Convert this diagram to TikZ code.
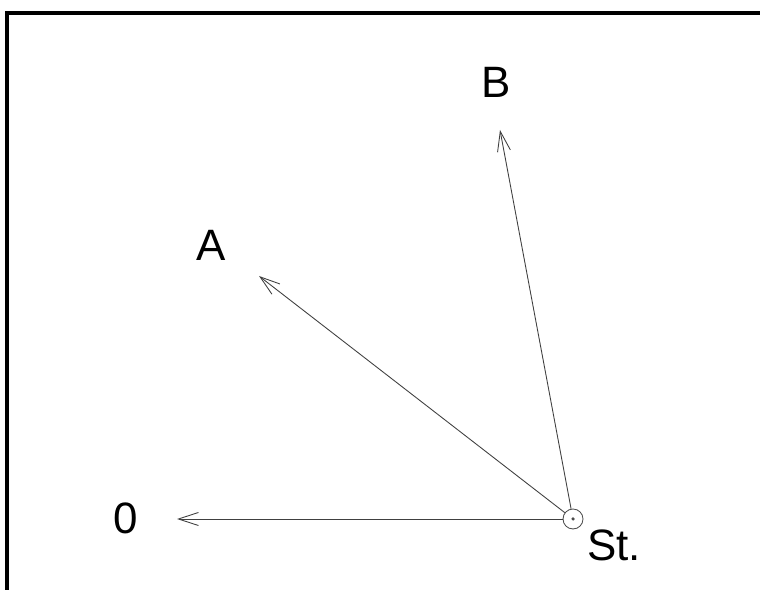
\documentclass[tikz,border=0pt]{standalone}
\usepackage{fontspec}
\setmainfont{Liberation Sans}
\usepackage{tikz}
\usetikzlibrary{arrows.meta,positioning}

\begin{document}
\begin{tikzpicture}[
    station/.style={
        draw=black!70,
        circle,
        line width=0.5pt,
        minimum size=0.4cm,
        inner sep=0pt
    },
    tag/.style={
        font=\fontsize{25}{29}\selectfont,
        inner sep=0pt
    },
    ray/.style={-{Straight Barb[length=4mm,width=2.6mm]}, draw=black!75, line width=0.5pt},
    frame/.style={line width=0.08cm}
]

\useasboundingbox (0,0) rectangle (15.2,11.8);

% --- Frame (top and left only) ---
\draw[frame] (0.14,0) |- (15.2,11.54);

% --- Station ---
\node[station] (st) at (11.46,1.42) {};
\fill[black!70] (st.center) circle (0.035);
\node[tag] (stlbl) at (12.28,0.90) {St.};

% --- Directions ---
\coordinate (dir0) at (3.54,1.42);
\coordinate (dirA) at (5.18,6.28);
\coordinate (dirB) at (10.00,9.20);

\node[tag] (lbl0) at (2.52,1.44) {0};
\node[tag] (lblA) at (4.22,6.90) {A};
\node[tag] (lblB) at (9.92,10.16) {B};

% --- Rays ---
\draw[ray] (st) -- (dir0);
\draw[ray] (st) -- (dirA);
\draw[ray] (st) -- (dirB);

\end{tikzpicture}
\end{document}
